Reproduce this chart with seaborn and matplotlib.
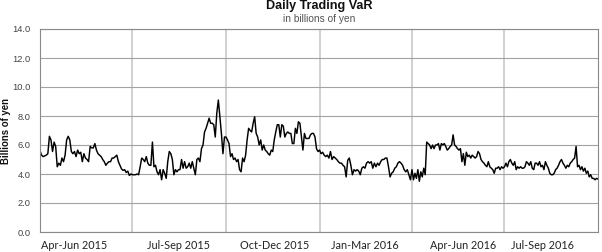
import numpy as np
import pandas as pd
import matplotlib
matplotlib.use("Agg")
import matplotlib.pyplot as plt
import seaborn as sns

# ---------------- data ----------------
title = "Daily Trading VaR"
subtitle = "in billions of yen"
y_label = "Billions of yen"
quarter_labels = ["Apr-Jun 2015", "Jul-Sep 2015", "Oct-Dec 2015",
                  "Jan-Mar 2016", "Apr-Jun 2016", "Jul-Sep 2016"]
quarter_bounds = ["2015-04-01", "2015-07-01", "2015-10-01", "2016-01-01",
                  "2016-04-01", "2016-07-01", "2016-10-01"]
y_ticks = [0.0, 2.0, 4.0, 6.0, 8.0, 10.0, 12.0, 14.0]

var_apr_jun_2015 = [5.6, 5.3, 5.2, 5.25, 5.3, 5.4, 6.6, 6.35, 5.55, 6.2, 5.9, 4.5, 4.75, 4.6,
                    5.1, 4.85, 5.3, 6.35, 6.6, 6.35, 5.55, 5.4, 5.55, 5.2, 5.65, 5.4, 5.5, 4.85,
                    5.4, 5.1, 5.0, 4.85, 5.9, 5.8, 5.8, 6.1, 5.65, 5.4, 5.3, 5.2, 5.0, 4.85,
                    4.6, 4.75, 4.85, 4.85, 5.1, 5.1, 5.2, 5.3, 4.85, 4.6, 4.35, 4.25, 4.3, 4.1,
                    4.2, 3.9, 4.0]
var_jul_sep_2015 = [3.95, 3.95, 3.95, 4.0, 3.95, 4.5, 5.1, 5.0, 4.85, 5.2, 4.75, 4.6, 4.6, 6.2,
                    4.5, 4.6, 4.15, 3.95, 4.3, 3.6, 4.3, 4.05, 3.7, 4.85, 5.55, 5.4, 5.0, 3.95,
                    4.3, 4.15, 4.3, 4.3, 5.0, 4.4, 4.85, 4.4, 4.5, 4.75, 4.4, 4.85, 4.4, 3.95,
                    5.0, 5.1, 4.85, 5.75, 6.0, 6.9, 7.15, 7.5, 7.85, 7.5, 7.5, 7.4, 6.55, 8.2,
                    9.1, 7.95, 6.8, 5.4, 6.55]
var_oct_dec_2015 = [6.55, 6.35, 6.1, 5.2, 5.4, 5.0, 5.1, 4.85, 5.0, 4.3, 4.15, 5.1, 4.85, 5.3,
                    6.35, 7.15, 7.0, 6.9, 7.5, 7.95, 6.8, 6.55, 6.0, 6.35, 5.65, 6.0, 5.65, 5.55,
                    5.4, 5.3, 5.65, 5.55, 6.35, 6.9, 7.4, 7.4, 6.55, 7.4, 7.3, 6.55, 6.8, 6.9,
                    6.8, 6.8, 6.1, 6.1, 7.15, 6.8, 7.6, 7.5, 6.55, 5.65, 6.8, 6.45, 6.45, 6.45,
                    6.7, 6.8, 6.8, 6.55, 5.75, 5.55]
var_jan_mar_2016 = [5.65, 5.4, 5.5, 5.3, 5.2, 5.3, 5.1, 5.55, 5.0, 5.2, 5.1, 5.0, 4.85, 4.75,
                    4.75, 4.6, 4.5, 3.8, 4.95, 5.1, 4.6, 3.95, 4.3, 4.2, 4.3, 4.2, 3.95, 4.4,
                    4.5, 4.4, 4.75, 4.85, 4.75, 4.85, 4.4, 4.75, 4.5, 4.75, 4.6, 4.85, 5.0, 5.0,
                    5.1, 5.1, 4.5, 3.8, 4.05, 4.15, 4.4, 4.5, 4.75, 4.85, 4.75, 4.6, 4.3, 4.15,
                    4.3, 3.95, 3.6]
var_apr_jun_2016 = [4.3, 3.6, 4.05, 3.7, 4.3, 3.5, 4.15, 3.8, 4.4, 3.95, 6.2, 6.1, 6.0, 5.75,
                    6.0, 5.75, 6.0, 6.0, 6.1, 5.65, 6.1, 6.0, 6.1, 5.9, 5.65, 5.75, 5.9, 6.0,
                    6.7, 6.0, 5.9, 5.75, 5.65, 5.75, 4.85, 5.4, 4.6, 5.5, 5.2, 5.3, 5.1, 5.3,
                    5.2, 5.1, 5.2, 5.55, 5.4, 5.0, 4.85, 4.75, 4.6, 4.5, 4.85, 4.5, 4.4, 4.3,
                    4.05, 4.4, 4.4, 4.5, 4.3, 4.5, 4.4]
var_jul_sep_2016 = [4.5, 4.75, 4.5, 4.85, 5.0, 4.75, 4.6, 4.85, 4.3, 4.5, 4.4, 4.5, 4.4, 4.4,
                    4.5, 4.85, 4.75, 4.6, 4.85, 4.4, 4.3, 4.75, 4.75, 4.6, 4.85, 4.5, 4.6, 4.3,
                    4.85, 4.6, 4.4, 4.05, 3.95, 3.95, 4.05, 4.3, 4.4, 4.6, 4.85, 5.0, 4.75, 4.6,
                    4.4, 4.6, 4.5, 4.75, 4.85, 5.0, 5.1, 5.9, 4.5, 4.6, 4.3, 4.5, 4.2, 4.4,
                    4.05, 4.2, 3.8, 3.95, 3.7, 3.7, 3.6, 3.7, 3.65]

quarters = [var_apr_jun_2015, var_jul_sep_2015, var_oct_dec_2015,
            var_jan_mar_2016, var_apr_jun_2016, var_jul_sep_2016]

# build a daily-ish date index inside each quarter
frames = []
for k, vals in enumerate(quarters):
    s = pd.Timestamp(quarter_bounds[k])
    e = pd.Timestamp(quarter_bounds[k + 1])
    last = k == len(quarters) - 1
    ts = pd.date_range(s, e, periods=len(vals) + (0 if last else 1))
    if not last:
        ts = ts[:-1]
    frames.append(pd.DataFrame({"date": ts, "var": vals}))
df = pd.concat(frames, ignore_index=True)

# ---------------- plot ----------------
sns.set_theme(style="white")
plt.rcParams["font.family"] = ["Liberation Sans", "DejaVu Sans"]

W, H = 602, 252
fig = plt.figure(figsize=(W / 100, H / 100), dpi=100)
ax = fig.add_axes([40 / W, 1 - 232 / H, 558 / W, 203 / H])

sns.lineplot(data=df, x="date", y="var", ax=ax, color="black", linewidth=1.05,
             legend=False)

ax.set_xlim(pd.Timestamp(quarter_bounds[0]), pd.Timestamp(quarter_bounds[-1]))
ax.set_ylim(0, 14)
ax.set_yticks(y_ticks)
ax.set_yticklabels([f"{v:.1f}" for v in y_ticks], fontsize=6.7, color="#444444")

# quarter boundaries as minor ticks -> vertical gridlines
ax.set_xticks([pd.Timestamp(d) for d in quarter_bounds[1:-1]], minor=True)
label_pos = [pd.Timestamp(d) for d in ["2015-05-05", "2015-08-15", "2015-11-18",
                                       "2016-02-15", "2016-05-21", "2016-08-07"]]
ax.set_xticks(label_pos)
ax.set_xticklabels(quarter_labels, fontsize=7.8, color="#222222", family="Lato")

ax.tick_params(axis="both", which="both", length=0)
ax.tick_params(axis="y", pad=7)
ax.tick_params(axis="x", pad=5.5)
ax.grid(True, axis="y", which="major", color="#a3a3a3", linewidth=0.8)
ax.grid(True, axis="x", which="minor", color="#c4c4c4", linewidth=1.1)
ax.grid(False, axis="x", which="major")
ax.set_axisbelow(True)

for side in ["left", "bottom", "top", "right"]:
    ax.spines[side].set_visible(True)
    ax.spines[side].set_color("#8a8a8a")
    ax.spines[side].set_linewidth(0.8)

ax.set_xlabel("")
ax.set_ylabel(y_label, fontsize=6.95, fontweight="bold", color="#111111")
ax.yaxis.label.set_verticalalignment("center")
ax.yaxis.set_label_coords(-34 / 558, 0.5)

fig.text(319 / W, 1 - 6.5 / H, title, ha="center", va="center", fontsize=9.1,
         fontweight="bold", color="#111111")
fig.text(319 / W, 1 - 19 / H, subtitle, ha="center", va="center", fontsize=7.3,
         color="#555555")

fig.savefig("out.png", dpi=100)
